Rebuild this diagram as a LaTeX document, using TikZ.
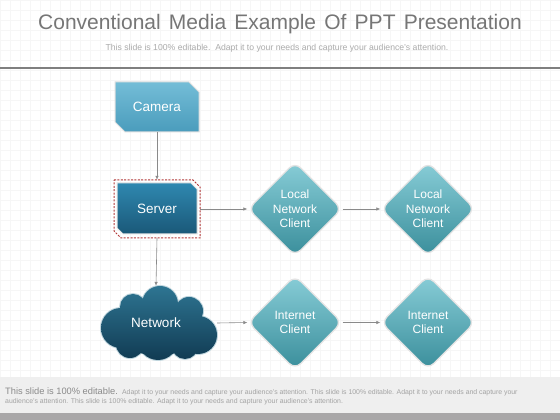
\documentclass[tikz,border=0pt]{standalone}
\usepackage{fontspec}
\setmainfont{Liberation Sans}
\usetikzlibrary{arrows.meta,shapes.geometric}
\definecolor{titlegray}{HTML}{767676}
\definecolor{subgray}{HTML}{ABABAB}
\definecolor{rulegray}{HTML}{7F7F7F}
\definecolor{gridgray}{HTML}{F6F6F6}
\definecolor{camtop}{HTML}{74BDD7}
\definecolor{cambot}{HTML}{4A9CBC}
\definecolor{srvtop}{HTML}{2F88B0}
\definecolor{srvbot}{HTML}{1A5878}
\definecolor{cldtop}{HTML}{2E7592}
\definecolor{cldbot}{HTML}{113B53}
\definecolor{diatop}{HTML}{88CDD7}
\definecolor{diabot}{HTML}{3A8E9B}
\definecolor{dashred}{HTML}{B33A3A}
\definecolor{arrowgray}{HTML}{8A8A8A}
\definecolor{footlight}{HTML}{EFEFEF}
\definecolor{footdark}{HTML}{A9A7A8}
\definecolor{footbig}{HTML}{8A8A8A}
\definecolor{footsmall}{HTML}{A3A3A3}
\newcommand{\wsp}{\ \hspace{2.4pt}}
\tikzset{
  px/.style={x=1pt,y=1pt},
  boxlabel/.style={inner sep=0pt, text=white, font=\fontsize{13.5}{16}\selectfont},
  diabox/.style={diamond, aspect=1, minimum width=94pt, minimum height=94pt, inner sep=0pt,
     rounded corners=8pt, top color=diatop, bottom color=diabot, draw=white!78!gray,
     line width=1.3pt, text=white, align=center,
     font=\fontsize{12}{14.5}\selectfont},
  conn/.style={draw=arrowgray, line width=0.6pt, -{Latex[length=4pt,width=3.5pt]}},
}
\begin{document}
\begin{tikzpicture}[px]
\useasboundingbox (0,0) rectangle (560,420);
\fill[white] (0,0) rectangle (560,420);
\draw[gridgray, step=10pt, line width=0.3pt] (0,43) grid (560,420);
% title
\node[anchor=base, text=titlegray, font=\fontsize{21}{24}\selectfont] (title) at (280,390)
  {Conventional\wsp Media\wsp Example\wsp Of\wsp PPT\wsp Presentation};
\node[anchor=base, text=subgray, font=\fontsize{8.65}{10}\selectfont] (subtitle) at (277,369)
  {This slide is 100\% editable.\ \ Adapt it to your needs and capture your audience's attention.};
\draw[rulegray, line width=2pt] (0,352.3) -- (560,352.3);
% camera
\shadedraw[top color=camtop, bottom color=cambot, draw=white!75!gray, line width=1pt]
  (115,338) -- (189,338) -- (199,328) -- (199,288) -- (125,288) -- (115,298) -- cycle;
\node[boxlabel, minimum width=84pt, minimum height=50pt] (camera) at (157,313) {Camera};
% server
\draw[dashred, line width=1pt, dash pattern=on 2pt off 1.4pt]
  (114,240) -- (193,240) -- (200,233) -- (200,182) -- (121,182) -- (114,189) -- cycle;
\shadedraw[top color=srvtop, bottom color=srvbot, draw=white!80!gray, line width=1pt]
  (117,237) -- (191,237) -- (197,231) -- (197,186) -- (123,186) -- (117,192) -- cycle;
\node[boxlabel, minimum width=86pt, minimum height=58pt] (server) at (157,211) {Server};
% network cloud
\draw[draw=white!70!cldtop, line width=2pt]
  (160,116) circle (18) (133,113) circle (13) (189,109) circle (14)
  (121,92) circle (20) (198,85) circle (19) (158,80) circle (20)
  (130,76) circle (14) (185,74) circle (13);
\shade[top color=cldtop, bottom color=cldbot]
  (160,116) circle (18) (133,113) circle (13) (189,109) circle (14)
  (121,92) circle (20) (198,85) circle (19) (158,80) circle (20)
  (130,76) circle (14) (185,74) circle (13) (158,90) ellipse (48 and 25);
\node[boxlabel, minimum width=122pt, minimum height=74pt] (network) at (156,97) {Network};
% diamonds
\node[diabox] (lnc1) at (295,211) {Local\\Network\\Client};
\node[diabox] (lnc2) at (428,211) {Local\\Network\\Client};
\node[diabox] (ic1) at (295,97.5) {Internet\\Client};
\node[diabox] (ic2) at (428,97.5) {Internet\\Client};
% connectors
\draw[conn] (camera.south) -- (server.north);
\draw[conn] (server.south) -- (network.north);
\draw[conn] (server.east) -- (lnc1.west);
\draw[conn] (lnc1.east) -- (lnc2.west);
\draw[conn] (network.east) -- (ic1.west);
\draw[conn] (ic1.east) -- (ic2.west);
% footer
\fill[footlight] (0,7) rectangle (560,43);
\fill[footdark] (0,0) rectangle (560,7);
\node[anchor=base west, inner sep=0pt, text=footbig, font=\fontsize{9.3}{11}\selectfont] (foot1) at (5,25)
  {This slide is 100\% editable.};
\node[anchor=base west, inner sep=0pt, text=footsmall, font=\fontsize{6.9}{8}\selectfont] (foot2) at (foot1.base east)
  {\ \ Adapt it to your needs and capture your audience's attention. This slide is 100\% editable. Adapt it to your needs and capture your};
\node[anchor=base west, inner sep=0pt, text=footsmall, font=\fontsize{6.9}{8}\selectfont] (foot3) at (5,16)
  {audience's attention. This slide is 100\% editable. Adapt it to your needs and capture your audience's attention.};
\end{tikzpicture}
\end{document}
